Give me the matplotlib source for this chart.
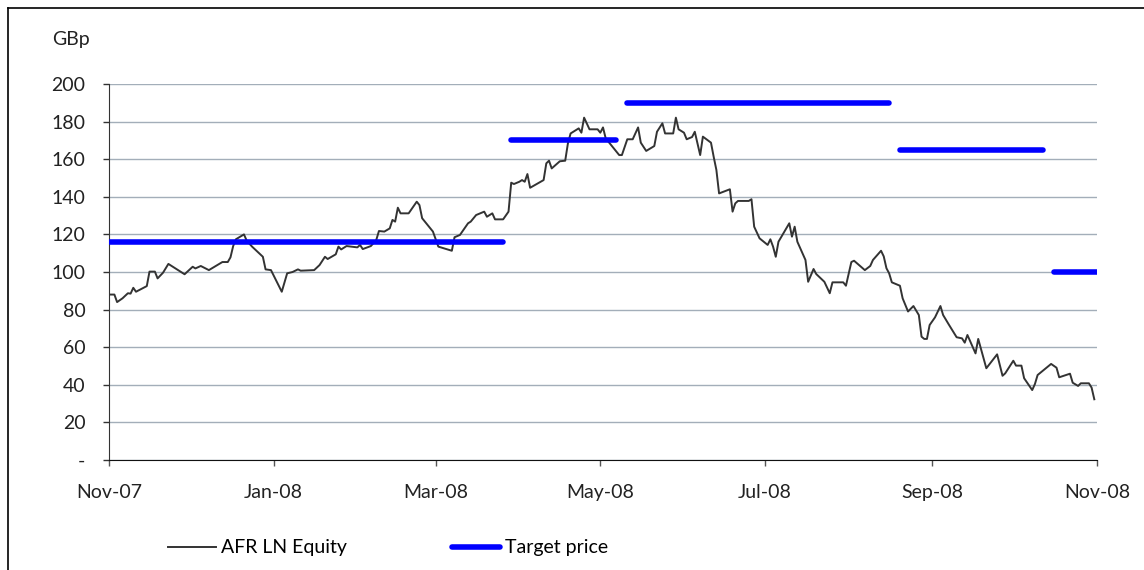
import os
os.environ.setdefault("MPLBACKEND", "Agg")

import matplotlib
matplotlib.use("Agg")
import matplotlib.pyplot as plt
import matplotlib.dates as mdates
from matplotlib.lines import Line2D
import pandas as pd

plt.rcParams["font.family"] = ["Lato", "DejaVu Sans"]

START = "2007-11-01"

# AFR LN Equity close (days after START, GBp)
price_days = [
    0, 2, 3, 5, 7, 8, 9, 10, 14, 15, 17, 18, 20, 22, 28, 31, 32, 34, 37, 40,
    42, 44, 45, 46, 47, 50, 51, 53, 57, 58, 60, 64, 66, 68, 70, 71, 76, 78, 80, 81,
    84, 85, 86, 88, 92, 93, 94, 97, 99, 100, 102, 104, 105, 106, 107, 108, 111, 114, 115, 116,
    120, 122, 127, 128, 130, 133, 134, 136, 139, 140, 142, 143, 146, 148, 149, 150, 152, 153, 154, 155,
    156, 161, 162, 163, 164, 167, 169, 170, 171, 174, 175, 176, 178, 181, 182, 183, 184, 187, 189, 190,
    192, 194, 196, 197, 199, 202, 203, 205, 206, 209, 210, 211, 213, 214, 216, 217, 219, 220, 223, 224,
    225, 226, 230, 231, 232, 233, 237, 238, 239, 241, 244, 245, 246, 247, 248, 252, 253, 254, 255, 258,
    259, 261, 262, 265, 267, 268, 272, 273, 275, 276, 280, 282, 283, 286, 287, 288, 289, 290, 293, 294,
    296, 298, 300, 301, 302, 303, 304, 306, 308, 309, 311, 314, 316, 317, 318, 321, 322, 325, 329, 331,
    332, 335, 336, 338, 339, 342, 343, 344, 349, 351, 352, 356, 357, 359, 360, 363, 364, 365,
]
price_vals = [
    88, 88, 84, 86, 88.7, 88.5, 91.6, 89.5, 92.5, 100.2, 100.2, 96.6, 99.6, 104.3, 98.8, 102.8, 101.9, 103.2, 101, 103.6,
    105.3, 105.3, 107.8, 113.8, 117.4, 120, 116.7, 113.5, 108.1, 101.4, 101, 89.5, 99.3, 100, 101.4, 100.7, 101, 103.7, 108.1, 106.9,
    109.4, 113.5, 112, 113.8, 113.1, 114.4, 112.2, 113.8, 117, 121.8, 121.5, 123.2, 127.7, 126.8, 134.2, 131.2, 131.2, 137.4, 135.6, 128.6,
    121.5, 113.5, 111.3, 118.5, 119.7, 125.9, 126.8, 130.3, 132.1, 129.4, 131.2, 128, 128, 132.1, 147.5, 146.8, 148, 148.9, 148, 152.1,
    144.8, 148.9, 157.8, 159.2, 155.1, 158.9, 159.2, 168.4, 173.7, 176.4, 174.1, 182.1, 175.9, 175.9, 174.1, 176.9, 171.1, 165.8, 162.2, 162.2,
    170.6, 170.6, 176.9, 168.8, 164.4, 167, 174.6, 179.1, 173.7, 173.7, 182.1, 175.9, 174.1, 170.6, 171.8, 174.6, 162.2, 172, 168.8, 161.3,
    154.3, 141.8, 144, 132.1, 136.5, 137.8, 137.8, 138.7, 124.1, 117.9, 114.4, 117.4, 113.5, 108.1, 116.1, 125.9, 118.8, 124.1, 116.1, 106.4,
    94.8, 101.6, 98.9, 94.8, 88.7, 94.5, 94.5, 92.7, 105.3, 106, 101, 103.2, 106.4, 111.3, 108.3, 102, 99.3, 94.5, 92.7, 86,
    79, 81.9, 77.1, 65.6, 64.4, 64.4, 71.8, 75.9, 81.9, 77.1, 72.3, 65.3, 64.7, 62.4, 66.5, 56.7, 64.4, 48.8, 56.2, 44.8,
    46.1, 52.8, 50.2, 50.2, 43.5, 37.2, 40.4, 45.2, 51.1, 49.1, 44, 45.9, 41.1, 39.4, 40.8, 40.8, 38.5, 32.3,
]

# target price periods (start day, end day, GBp)
target_start = [0, 149, 192, 293, 350]
target_end = [146, 188, 289, 346, 366]
target_vals = [116, 170, 190, 165, 100]

y_ticks = [0, 20, 40, 60, 80, 100, 120, 140, 160, 180, 200]
y_ticklabels = ["-"] + [str(v) for v in y_ticks[1:]]

FS = 14

start = pd.Timestamp(START)
dates = start + pd.to_timedelta(price_days, unit="D")

fig = plt.figure(figsize=(11.44, 5.70), dpi=100)
ax = fig.add_axes([109 / 1144, 1 - 460 / 570, 988 / 1144, 376 / 570])

ax.set_axisbelow(True)
ax.yaxis.grid(True, color="#a3aeb9", linewidth=1.0)

ax.plot(dates, price_vals, color="#333333", linewidth=1.4, label="AFR LN Equity", zorder=3)

for i, (s, e, v) in enumerate(zip(target_start, target_end, target_vals)):
    ax.plot([start + pd.Timedelta(days=s), start + pd.Timedelta(days=e)], [v, v],
            color="#0000ff", linewidth=4.0, solid_capstyle="round", zorder=4,
            label="Target price" if i == 0 else None)

ax.set_xlim(start, pd.Timestamp("2008-11-01"))
ax.set_ylim(0, 200)
ax.set_yticks(y_ticks)
ax.set_yticklabels(y_ticklabels)
ax.xaxis.set_major_locator(mdates.MonthLocator(bymonth=[1, 3, 5, 7, 9, 11]))
ax.xaxis.set_major_formatter(mdates.DateFormatter("%b-%y"))

for side in ["top", "right"]:
    ax.spines[side].set_visible(False)
ax.spines["left"].set_color("#333333")
ax.spines["bottom"].set_color("#111111")
ax.tick_params(axis="y", direction="out", length=4, width=1, color="#333333",
               labelsize=FS, pad=13, labelcolor="#222222")
ax.tick_params(axis="x", direction="out", length=4, width=1, color="#555555",
               labelsize=FS, pad=13, labelcolor="#222222")

fig.text(52 / 1144, 1 - 40 / 570, "GBp", fontsize=FS, color="#222222",
         ha="left", va="center")

fig.legend(loc="center", bbox_to_anchor=(388 / 1144, 1 - 548 / 570), ncol=2,
           frameon=False, fontsize=FS, handlelength=2.5, handletextpad=0.25,
           columnspacing=5.4)

# frame around the chart (only left and top edges fall inside the picture)
fig.add_artist(Line2D([7.5 / 1144, 7.5 / 1144], [0, 1 - 8 / 570], color="black", linewidth=1.2))
fig.add_artist(Line2D([7.5 / 1144, 1], [1 - 8 / 570, 1 - 8 / 570], color="black", linewidth=1.2))

fig.savefig("out.png", dpi=100)
plt.close(fig)
